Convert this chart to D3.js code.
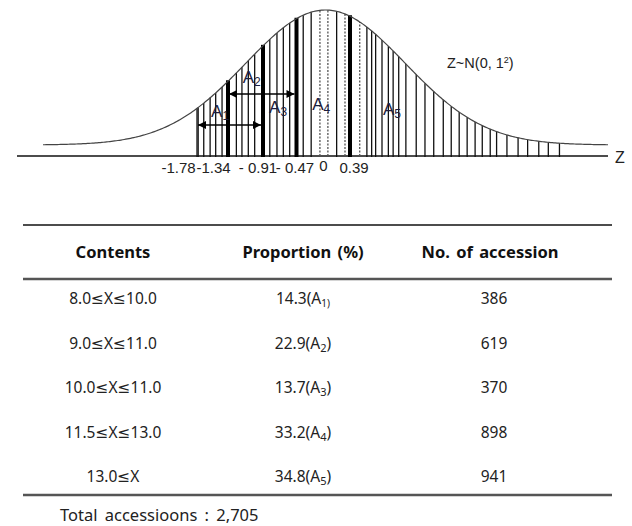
<!DOCTYPE html>
<html>
<head>
<meta charset="utf-8">
<script src="https://cdn.jsdelivr.net/npm/d3@7"></script>
<style>
  html, body { margin: 0; padding: 0; background: #fff; }
  svg { display: block; }
</style>
</head>
<body>
<div id="chart"></div>
<script>
// cut points on the standardised axis
var cutZ = [-1.78, -1.34, -0.91, -0.47, 0, 0.39];
var cutLabels = ["-1.78", "-1.34", "- 0.91", "- 0.47", "0", "0.39"];
var thickZ = [-1.34, -0.91, -0.47, 0.39];
// thin hatch lines (z) and dashed lines (z)
var hatchZ = [-1.60, -1.53, -1.45, -1.38, -1.30, -1.12, -1.05, -0.97, -0.89, -0.70, -0.61, -0.53, -0.45,
  -0.28, -0.18, 0.14, 0.52, 0.58, 0.63, 0.71, 0.79, 0.85, 0.92, 1.01, 1.14, 1.25, 1.36, 1.48, 1.58,
  1.68, 1.78, 1.88, 1.97, 2.07, 2.15, 2.28, 2.42, 2.54, 2.68, 2.80, 2.94];
var dashZ = [-0.07, 0.03, 0.245, 0.43];
// double arrows for overlapping ranges
var arrowFrom = [-1.78, -1.34];
var arrowTo = [-0.91, -0.47];
var areaNames = ["1", "2", "3", "4", "5"];
var areaZ = [-1.58, -1.16, -0.83, -0.18, 0.85];

// table
var contents = ["8.0≤X≤10.0", "9.0≤X≤11.0", "10.0≤X≤11.0", "11.5≤X≤13.0", "13.0≤X"];
var proportion = [14.3, 22.9, 13.7, 33.2, 34.8];
var accessions = [386, 619, 370, 898, 941];
var headers = ["Contents", "Proportion (%)", "No. of accession"];
var totalAccessions = 2705;

var W = 632, H = 526;
var svg = d3.select("#chart").append("svg").attr("width", W).attr("height", H);

var dens = function(z) { return Math.exp(-z * z / 2) / Math.sqrt(2 * Math.PI); };

var xCurve = d3.scaleLinear().domain([-3.55, 3.55]).range([43, 608]);
var xCut = d3.scaleLinear().domain(cutZ).range([197, 228, 263, 296.5, 322, 350]);
var y = d3.scaleLinear().domain([0, dens(0)]).range([145, 10]);
var axisY = 156;
var topAt = function(px) { return y(dens(xCurve.invert(px))); };

var g = svg.append("g");

// axis
g.append("line").attr("x1", 17).attr("x2", 608).attr("y1", axisY).attr("y2", axisY)
  .attr("stroke", "#111").attr("stroke-width", 1.4);
g.append("text").attr("x", 615).attr("y", 163)
  .style("font-family", "Liberation Sans, Arial, sans-serif").style("font-size", "16px")
  .attr("fill", "#222").text("Z");

// hatch lines
g.selectAll(".hatch").data(hatchZ).enter().append("line")
  .attr("class", "hatch")
  .attr("x1", function(d) { return xCurve(d); }).attr("x2", function(d) { return xCurve(d); })
  .attr("y1", axisY + 1).attr("y2", function(d) { return topAt(xCurve(d)); })
  .attr("stroke", "#111").attr("stroke-width", 1.3);

// thin line at first cut
g.append("line")
  .attr("x1", xCut(cutZ[0])).attr("x2", xCut(cutZ[0]))
  .attr("y1", axisY + 1).attr("y2", topAt(xCut(cutZ[0])))
  .attr("stroke", "#111").attr("stroke-width", 1.3);

// dashed lines
g.selectAll(".dash").data(dashZ).enter().append("line")
  .attr("class", "dash")
  .attr("x1", function(d) { return xCurve(d); }).attr("x2", function(d) { return xCurve(d); })
  .attr("y1", axisY).attr("y2", function(d) { return topAt(xCurve(d)); })
  .attr("stroke", "#555").attr("stroke-width", 1.3).attr("stroke-dasharray", "2,1.5");

// thick cut lines
g.selectAll(".thick").data(thickZ).enter().append("line")
  .attr("class", "thick")
  .attr("x1", function(d) { return xCut(d); }).attr("x2", function(d) { return xCut(d); })
  .attr("y1", axisY + 1).attr("y2", function(d) { return topAt(xCut(d)) - 1; })
  .attr("stroke", "#000").attr("stroke-width", 4);

// density curve
var curvePts = d3.range(-3.55, 3.5501, 0.02);
g.append("path").datum(curvePts)
  .attr("d", d3.line().x(function(d) { return xCurve(d); }).y(function(d) { return y(dens(d)); }))
  .attr("fill", "none").attr("stroke", "#444").attr("stroke-width", 1.2);

// arrows
var defs = svg.append("defs");
defs.append("marker").attr("id", "ah").attr("viewBox", "0 0 10 10")
  .attr("refX", 10).attr("refY", 5).attr("markerWidth", 9).attr("markerHeight", 8)
  .attr("markerUnits", "userSpaceOnUse").attr("orient", "auto-start-reverse")
  .append("path").attr("d", "M0,0 L10,5 L0,10 Z").attr("fill", "#000");
var arrowY = [125, 94];
arrowFrom.forEach(function(a, i) {
  g.append("line")
    .attr("x1", xCut(a) + 1).attr("x2", xCut(arrowTo[i]) - 2)
    .attr("y1", arrowY[i]).attr("y2", arrowY[i])
    .attr("stroke", "#000").attr("stroke-width", 1.6)
    .attr("marker-start", "url(#ah)").attr("marker-end", "url(#ah)");
});

// area labels
var areaBase = [117, 83, 113, 110, 115];
areaNames.forEach(function(n, i) {
  var t = g.append("text").attr("x", xCut(areaZ[i])).attr("y", areaBase[i])
    .style("font-family", "Liberation Sans, Arial, sans-serif").style("font-size", "17px")
    .attr("fill", "#1c1c3c");
  t.append("tspan").text("A");
  t.append("tspan").attr("dy", 3).style("font-size", "12px").text(n);
});

// cut labels
var labelDx = [-18.5, -14.5, -5, -1.5, 1.3, 4];
g.selectAll(".cutlab").data(cutZ).enter().append("text")
  .attr("class", "cutlab")
  .attr("x", function(d, i) { return xCut(d) + labelDx[i]; })
  .attr("y", function(d) { return d === 0 ? 171 : 173; })
  .attr("text-anchor", "middle")
  .style("font-family", "Liberation Sans, Arial, sans-serif").style("font-size", "15px")
  .attr("fill", "#222")
  .text(function(d, i) { return cutLabels[i]; });

// distribution note
var note = g.append("text").attr("x", 447).attr("y", 68)
  .style("font-family", "Liberation Sans, Arial, sans-serif").style("font-size", "14.5px")
  .attr("fill", "#222");
note.append("tspan").text("Z~N(0, 1");
note.append("tspan").attr("dy", -5).style("font-size", "9px").text("2");
note.append("tspan").attr("dy", 5).text(")");

// ---- table ----
var tf = "'Noto Sans', 'DejaVu Sans', 'Noto Sans CJK KR', sans-serif";
var colX = [113, 303, 494];
var t = svg.append("g");
t.append("line").attr("x1", 23).attr("x2", 612).attr("y1", 225).attr("y2", 225)
  .attr("stroke", "#111").attr("stroke-width", 1.5);
t.append("line").attr("x1", 23).attr("x2", 612).attr("y1", 279).attr("y2", 279)
  .attr("stroke", "#555").attr("stroke-width", 2.5);
t.append("line").attr("x1", 23).attr("x2", 612).attr("y1", 495).attr("y2", 495)
  .attr("stroke", "#555").attr("stroke-width", 2.5);

t.selectAll(".hdr").data(headers).enter().append("text")
  .attr("x", function(d, i) { return colX[i] - (i === 2 ? 4 : 0); }).attr("y", 258)
  .attr("text-anchor", "middle").style("word-spacing", "2px")
  .style("font-family", tf).style("font-size", "16.5px").style("font-weight", "bold")
  .attr("fill", "#111").text(function(d) { return d; });

var rowY = d3.scalePoint().domain(d3.range(contents.length)).range([299, 477]);
contents.forEach(function(c, i) {
  var yy = rowY(i) + 5;
  t.append("text").attr("x", colX[0]).attr("y", yy).attr("text-anchor", "middle")
    .style("font-family", tf).style("font-size", "15.5px").attr("fill", "#222").text(c);
  var p = t.append("text").attr("x", colX[1]).attr("y", yy).attr("text-anchor", "middle")
    .style("font-family", tf).style("font-size", "15.5px").attr("fill", "#222");
  p.append("tspan").text(d3.format(".1f")(proportion[i]) + "(A");
  if (i === 0) {
    p.append("tspan").attr("dy", 3).style("font-size", "10px").text(areaNames[i] + ")");
  } else {
    p.append("tspan").attr("dy", 3).style("font-size", "11px").text(areaNames[i]);
    p.append("tspan").attr("dy", -3).text(")");
  }
  t.append("text").attr("x", colX[2]).attr("y", yy).attr("text-anchor", "middle")
    .style("font-family", tf).style("font-size", "15.5px").attr("fill", "#222").text(accessions[i]);
});

t.append("text").attr("x", 60).attr("y", 521).style("word-spacing", "3px")
  .style("font-family", tf).style("font-size", "16.5px").attr("fill", "#222")
  .text("Total accessioons : " + d3.format(",")(totalAccessions));
</script>
</body>
</html>
